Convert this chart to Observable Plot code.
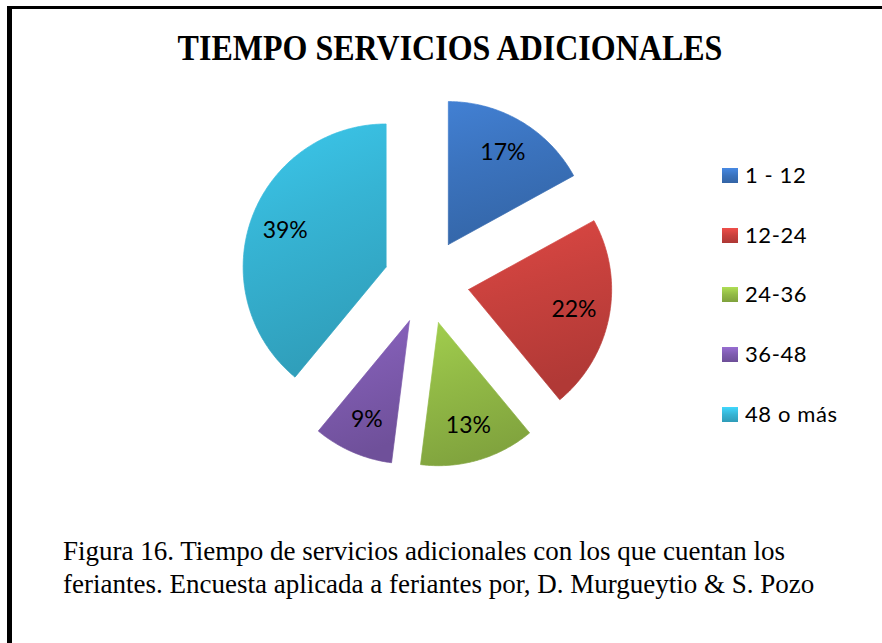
<!DOCTYPE html>
<html><head><meta charset="utf-8">
<script src="https://cdn.jsdelivr.net/npm/d3@7"></script>
<script src="https://cdn.jsdelivr.net/npm/@observablehq/plot@0.6"></script>
<style>
html,body{margin:0;padding:0;background:#fff}
#page{position:relative;width:882px;height:643px;overflow:hidden;background:#fff}
.bl{position:absolute;background:#000}
#title{position:absolute;left:0;width:900px;top:30px;text-align:center;font:bold 32px "Liberation Serif",serif;line-height:32px;color:#000;white-space:nowrap;transform:scaleY(1.12);transform-origin:50% 0}
#chart{position:absolute;left:0;top:80px}
.leg{position:absolute;left:722px;height:16px;font:22px Lato,sans-serif;letter-spacing:0.6px;color:#000;white-space:nowrap}
.leg .sw{position:absolute;left:0;top:0;width:16px;height:15px}
.leg .tx{position:absolute;left:23px;top:-6px;line-height:26px}
.cap{position:absolute;left:63px;font:27px "Liberation Serif",serif;line-height:27px;color:#000;white-space:nowrap}
</style></head><body>
<div id="page">
  <div class="bl" style="left:7px;top:6px;width:5px;height:643px"></div>
  <div class="bl" style="left:7px;top:6px;width:875px;height:3px"></div>
  <div id="title">TIEMPO SERVICIOS ADICIONALES</div>
  <div id="chart"></div>
  <div id="legend"></div>
  <div class="cap" id="cap1" style="top:538px">Figura 16. Tiempo de servicios adicionales con los que cuentan los</div>
  <div class="cap" id="cap2" style="top:571px">feriantes. Encuesta aplicada a feriantes por, D. Murgueytio &amp; S. Pozo</div>
</div>
<script>
// ---- data ----
const categories = ["1 - 12", "12-24", "24-36", "36-48", "48 o más"];
const values = [17, 22, 13, 9, 39];
const labels = ["17%", "22%", "13%", "9%", "39%"];
// ---- style ----
const colors = ["#3B73BE", "#C8413D", "#92BA46", "#7E5BAF", "#36B4D4"];

const W = 882, H = 430, R = 143, CX = 426, CY = 201;
const EXPLODE = 0.30, LABEL_R = 0.75;

const data = categories.map((c, i) => ({category: c, value: values[i], label: labels[i], i}));
const arcs = d3.pie().sort(null).value(d => d.value)(data);

const polys = [];
const labelPts = [];
arcs.forEach(a => {
  const mid = (a.startAngle + a.endAngle) / 2;
  const ex = EXPLODE * Math.sin(mid), ey = EXPLODE * Math.cos(mid);
  polys.push({category: a.data.category, x: ex, y: ey});
  const n = Math.max(2, Math.ceil((a.endAngle - a.startAngle) / 0.01));
  for (let k = 0; k <= n; k++) {
    const t = a.startAngle + (a.endAngle - a.startAngle) * k / n;
    polys.push({category: a.data.category, x: ex + Math.sin(t), y: ey + Math.cos(t)});
  }
  polys.push({category: a.data.category, x: ex, y: ey});
  labelPts.push({label: a.data.label, x: ex + LABEL_R * Math.sin(mid), y: ey + LABEL_R * Math.cos(mid)});
});

const grads = colors.map((c, i) => `url(#g${i})`);
const edges = colors.map(c => d3.color(c).darker(0.6).formatHex());

const plot = Plot.plot({
  width: W, height: H,
  margin: 0,
  x: {domain: [-CX / R, (W - CX) / R], axis: null},
  y: {domain: [-(H - CY) / R, CY / R], axis: null},
  color: {type: "ordinal", domain: categories, range: grads},
  marks: [
    Plot.line(polys, {x: "x", y: "y", z: "category", fill: "category", stroke: "category", strokeWidth: 1, strokeOpacity: 0.7, curve: "linear"}),
    Plot.text(labelPts, {x: "x", y: "y", text: "label", fontSize: 23, fontFamily: "Lato, sans-serif", fill: "#000"})
  ]
});

// gradient defs
const svg = d3.select(plot);
const defs = svg.insert("defs", ":first-child");
colors.forEach((c, i) => {
  const g = defs.append("linearGradient").attr("id", `g${i}`).attr("x1", 0).attr("y1", 0).attr("x2", 0.25).attr("y2", 1);
  g.append("stop").attr("offset", "0%").attr("stop-color", d3.color(c).brighter(0.3));
  g.append("stop").attr("offset", "45%").attr("stop-color", c);
  g.append("stop").attr("offset", "100%").attr("stop-color", d3.color(c).darker(0.35));
});
document.getElementById("chart").appendChild(plot);

// legend
const leg = document.getElementById("legend");
categories.forEach((c, i) => {
  const col = colors[i];
  const el = document.createElement("div");
  el.className = "leg";
  el.style.top = (168 + i * 59.7) + "px";
  el.innerHTML = `<div class="sw" style="background:linear-gradient(to bottom, ${d3.color(col).brighter(0.5)}, ${col} 50%, ${d3.color(col).darker(0.4)})"></div><div class="tx">${c}</div>`;
  leg.appendChild(el);
});
</script>
</body></html>
